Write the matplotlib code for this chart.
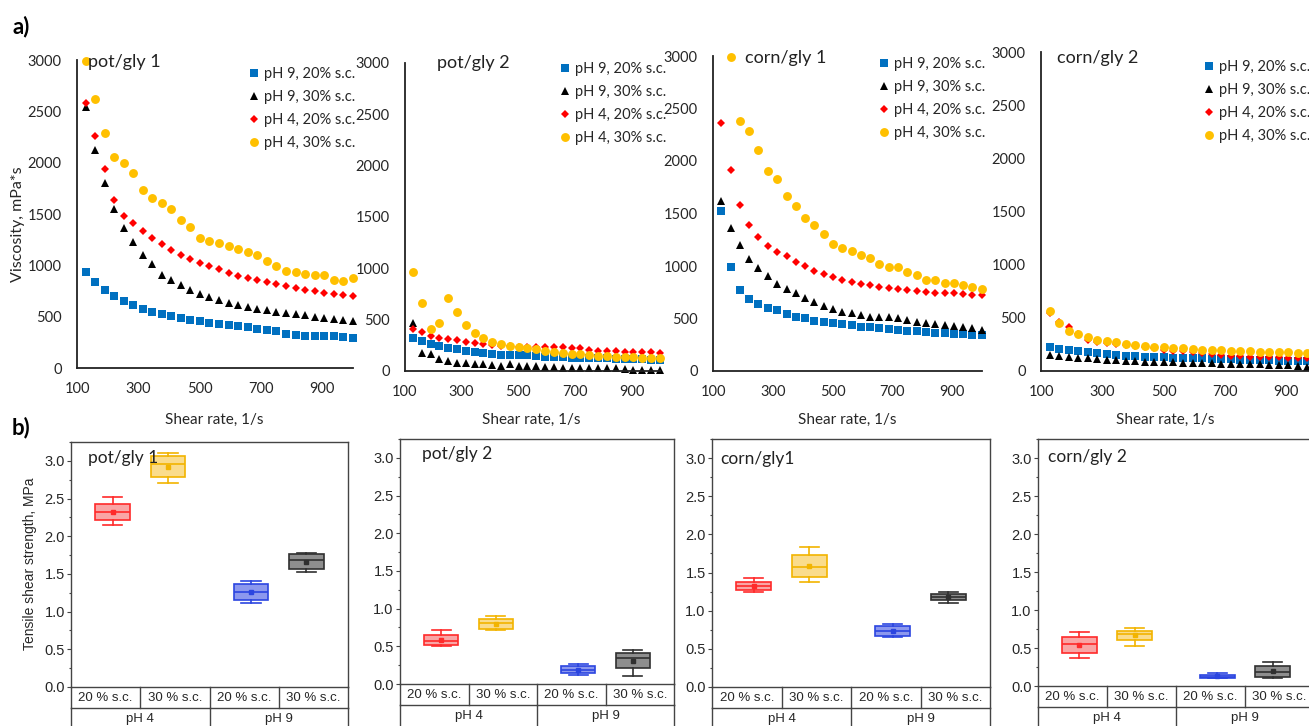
import numpy as np
import matplotlib
matplotlib.use('Agg')
import matplotlib.pyplot as plt
from matplotlib.ticker import MultipleLocator, FormatStrFormatter

plt.rcParams['font.family'] = ['Lato', 'DejaVu Sans']

W, H = 1309, 726

# ---- a) viscosity vs shear rate ----
shear = [128, 159, 190, 221, 252, 283, 315, 346, 377, 408, 439, 470, 501, 532, 564,
         595, 626, 657, 688, 719, 750, 781, 813, 844, 875, 906, 937, 968, 1000]
series_labels = ['pH 9, 20% s.c.', 'pH 9, 30% s.c.', 'pH 4, 20% s.c.', 'pH 4, 30% s.c.']

pg1_ph9_20 = [934, 840, 756, 704, 652, 613, 577, 548, 529, 509, 486, 464, 454, 441, 431,
              422, 409, 396, 383, 373, 357, 331, 324, 315, 311, 311, 308, 302, 292]
pg1_ph9_30 = [2539, 2127, 1803, 1544, 1359, 1223, 1103, 1012, 902, 859, 804, 759, 723, 688, 658,
              636, 613, 590, 577, 561, 548, 535, 525, 516, 499, 486, 477, 467, 460]
pg1_ph4_20 = [2578, 2260, 1936, 1638, 1485, 1411, 1339, 1268, 1206, 1154, 1102, 1064, 1025, 989, 963,
              924, 898, 876, 853, 833, 820, 801, 775, 759, 749, 730, 720, 713, 704]
pg1_ph4_30 = [2990, 2620, 2293, 2053, 1995, 1904, 1732, 1657, 1612, 1553, 1446, 1372, 1262, 1236, 1213,
              1193, 1161, 1128, 1102, 1041, 989, 941, 934, 915, 908, 902, 860, 843, 876]

pg2_ph9_20 = [325, 292, 266, 247, 228, 211, 198, 189, 172, 166, 159, 156, 153, 152, 146,
              140, 137, 133, 130, 130, 127, 124, 124, 120, 117, 114, 114, 111, 107]
pg2_ph9_30 = [465, 172, 166, 114, 98, 81, 81, 65, 65, 55, 52, 68, 49, 49, 46,
              36, 36, 33, 33, 33, 29, 29, 29, 26, 20, 13, 13, 13, 10]
pg2_ph4_20 = [410, 377, 345, 325, 312, 299, 286, 270, 260, 254, 247, 244, 237, 237, 237,
              234, 234, 234, 228, 221, 205, 195, 195, 192, 189, 185, 182, 182, 172]
pg2_ph4_30 = [962, 660, 406, 471, 715, 572, 449, 374, 318, 286, 263, 244, 231, 225, 218,
              195, 182, 172, 168, 162, 156, 150, 145, 140, 135, 132, 128, 125, 122]

cg1_ph9_20 = [1521, 994, 772, 683, 635, 603, 578, 543, 518, 502, 476, 467, 454, 445, 438,
              422, 416, 413, 397, 391, 381, 378, 371, 362, 359, 356, 352, 346, 340]
cg1_ph9_30 = [1619, 1365, 1200, 1070, 984, 908, 832, 778, 740, 695, 654, 622, 594, 565, 549,
              533, 518, 514, 514, 505, 486, 470, 457, 448, 438, 432, 416, 406, 391]
cg1_ph4_20 = [2365, 1915, 1584, 1387, 1280, 1187, 1133, 1095, 1041, 997, 956, 921, 895, 870, 845,
              829, 816, 803, 787, 778, 772, 765, 752, 746, 743, 740, 733, 727, 721]
cg1_ph4_30 = [np.nan, 2990, 2384, 2286, 2105, 1905, 1832, 1670, 1575, 1460, 1387, 1302, 1207, 1168, 1146,
              1105, 1073, 1019, 987, 987, 940, 911, 870, 870, 841, 841, 819, 803, 781]

cg2_ph9_20 = [230, 210, 195, 185, 175, 165, 158, 150, 145, 140, 135, 130, 128, 125, 122,
              120, 118, 115, 112, 110, 108, 105, 102, 100, 98, 95, 92, 90, 88]
cg2_ph9_30 = [150, 140, 130, 125, 118, 110, 105, 100, 96, 92, 88, 85, 82, 80, 78,
              76, 74, 72, 70, 68, 66, 64, 62, 60, 58, 55, 50, 35, 20]
cg2_ph4_20 = [545, 465, 410, 345, 295, 275, 265, 255, 245, 235, 225, 212, 200, 192, 185,
              175, 165, 158, 150, 145, 140, 135, 132, 130, 128, 125, 122, 120, 118]
cg2_ph4_30 = [567, 448, 380, 350, 320, 295, 285, 270, 255, 245, 235, 228, 222, 215, 212,
              208, 202, 198, 195, 190, 188, 185, 182, 180, 178, 175, 172, 170, 168]

# ---- b) tensile shear strength: [whisker low, Q1, median, Q3, whisker high, mean] ----
box_groups = ['20 % s.c.', '30 % s.c.', '20 % s.c.', '30 % s.c.']
ph_groups = ['pH 4', 'pH 9']
tss_pg1 = [[2.15, 2.22, 2.32, 2.43, 2.52, 2.32],
           [2.70, 2.79, 2.96, 3.07, 3.10, 2.92],
           [1.11, 1.16, 1.26, 1.36, 1.40, 1.26],
           [1.52, 1.57, 1.69, 1.77, 1.78, 1.66]]
tss_pg2 = [[0.50, 0.52, 0.57, 0.65, 0.71, 0.59],
           [0.71, 0.73, 0.81, 0.86, 0.90, 0.80],
           [0.12, 0.15, 0.19, 0.24, 0.26, 0.19],
           [0.10, 0.21, 0.34, 0.41, 0.45, 0.31]]
tss_cg1 = [[1.25, 1.27, 1.32, 1.38, 1.43, 1.33],
           [1.38, 1.44, 1.57, 1.73, 1.83, 1.59],
           [0.65, 0.67, 0.74, 0.80, 0.83, 0.73],
           [1.10, 1.14, 1.18, 1.22, 1.24, 1.18]]
tss_cg2 = [[0.37, 0.44, 0.55, 0.65, 0.71, 0.54],
           [0.53, 0.60, 0.69, 0.73, 0.76, 0.67],
           [0.10, 0.10, 0.12, 0.15, 0.17, 0.13],
           [0.10, 0.12, 0.18, 0.26, 0.31, 0.20]]

fig = plt.figure(figsize=(W / 100, H / 100), dpi=100)


def px_axes(x0, y0, x1, y1):
    # axes placed with pixel coordinates (top-left origin)
    return fig.add_axes([x0 / W, 1 - y1 / H, (x1 - x0) / W, (y1 - y0) / H])


markers = [('s', '#0070C0', 5.5), ('^', 'black', 5.8), ('D', '#FF0000', 4.4), ('o', '#FFC000', 6.4)]
text_col = '#262626'

a_panels = [
    ('pot/gly 1', (77, 60, 353, 368), [pg1_ph9_20, pg1_ph9_30, pg1_ph4_20, pg1_ph4_30], (88, 62), (250, 67), 214),
    ('pot/gly 2', (405, 63, 660, 371), [pg2_ph9_20, pg2_ph9_30, pg2_ph4_20, pg2_ph4_30], (437, 63), (561, 62), 531),
    ('corn/gly 1', (713, 56, 982, 371), [cg1_ph9_20, cg1_ph9_30, cg1_ph4_20, cg1_ph4_30], (745, 58), (880, 57), 847),
    ('corn/gly 2', (1041, 52, 1317, 371), [cg2_ph9_20, cg2_ph9_30, cg2_ph4_20, cg2_ph4_30], (1057, 58), (1205, 60), 1165),
]

for title, box, data, tpos, lpos, xl in a_panels:
    ax = px_axes(*box)
    handles = []
    for (m, c, ms), ys, lab in zip(markers, data, series_labels):
        h, = ax.plot(shear, ys, ls='none', marker=m, color=c, ms=ms, mew=0, clip_on=False, label=lab)
        handles.append(h)
    ax.set_xlim(100, 1000)
    ax.set_ylim(0, 3000)
    ax.set_xticks([100, 300, 500, 700, 900])
    ax.set_yticks(range(0, 3001, 500))
    ax.tick_params(length=0, labelsize=10.5, colors=text_col)
    ax.tick_params(axis='x', pad=10)
    ax.tick_params(axis='y', pad=11)
    for s in ['top', 'right']:
        ax.spines[s].set_visible(False)
    for s in ['left', 'bottom']:
        ax.spines[s].set_color('#222222')
        ax.spines[s].set_linewidth(1.3)
    ax.patch.set_alpha(0)
    fig.text(tpos[0] / W, 1 - tpos[1] / H, title, fontsize=13, va='center', ha='left', color='#222222')
    ax.legend(handles=handles, loc='upper left', bbox_to_anchor=(lpos[0] / W, 1 - lpos[1] / H),
              bbox_transform=fig.transFigure, frameon=False, fontsize=10.5, handlelength=0.6,
              handletextpad=0.35, labelspacing=0.62, borderpad=0, borderaxespad=0, labelcolor=text_col)
    fig.text(xl / W, 1 - 420 / H, 'Shear rate, 1/s', fontsize=11, ha='center', va='center', color=text_col)

fig.text(18 / W, 1 - 224 / H, 'Viscosity, mPa*s', fontsize=11.5, rotation=90, ha='center', va='center',
         color=text_col)
fig.text(12 / W, 1 - 27 / H, 'a)', fontsize=16, fontweight='bold', va='center')
fig.text(12 / W, 1 - 428 / H, 'b)', fontsize=16, fontweight='bold', va='center')

# ---- b) box plots (Origin style) ----
box_pos = [0.6, 1.4, 2.6, 3.4]
edge_cols = ['#FF2A2A', '#F2B400', '#2B45E0', '#303030']
fill_cols = ['#F9A5A5', '#FADC8C', '#8C98EE', '#8E8E8E']
frame_col = '#444444'
arial = ['Liberation Sans', 'DejaVu Sans']

b_panels = [
    ('pot/gly 1', (71, 442, 348, 687), tss_pg1, (88, 458)),
    ('pot/gly 2', (400, 439, 674, 684), tss_pg2, (422, 454)),
    ('corn/gly1', (712, 439, 990, 687), tss_cg1, (720, 459)),
    ('corn/gly 2', (1038, 439, 1314, 686), tss_cg2, (1048, 457)),
]

for title, (x0, y0, x1, y1), rows, tpos in b_panels:
    ax = px_axes(x0, y0, x1, y1)
    for k, r in enumerate(rows):
        st = dict(whislo=r[0], q1=r[1], med=r[2], q3=r[3], whishi=r[4], mean=r[5], fliers=[])
        c = edge_cols[k]
        ax.bxp([st], positions=[box_pos[k]], widths=0.5, capwidths=0.28, patch_artist=True,
               showmeans=True, manage_ticks=False,
               boxprops=dict(facecolor=fill_cols[k], edgecolor=c, linewidth=1.2),
               medianprops=dict(color=c, linewidth=1.2),
               whiskerprops=dict(color=c, linewidth=1.2),
               capprops=dict(color=c, linewidth=1.2),
               meanprops=dict(marker='s', markersize=3, markerfacecolor=c, markeredgecolor=c))
    ax.set_xlim(0, 4)
    ax.set_ylim(0, 3.25)
    ax.set_xticks([])
    ax.set_yticks(np.arange(0, 3.01, 0.5))
    ax.yaxis.set_minor_locator(MultipleLocator(0.25))
    ax.yaxis.set_major_formatter(FormatStrFormatter('%.1f'))
    ax.tick_params(axis='y', which='major', length=3, width=0.8, color=frame_col, pad=1.5,
                   labelsize=10.5, labelcolor=text_col)
    ax.tick_params(axis='y', which='minor', length=1.5, width=0.8, color=frame_col)
    for lab in ax.get_yticklabels():
        lab.set_family(arial)
    for s in ax.spines.values():
        s.set_color(frame_col)
        s.set_linewidth(1.0)
    fig.text(tpos[0] / W, 1 - tpos[1] / H, title, fontsize=12.5, va='center', color='#222222', zorder=0)

    # category table under the box plot
    tb = px_axes(x0, y1, x1, y1 + 42)
    tb.set_xlim(0, 4)
    tb.set_ylim(2, 0)
    tb.axis('off')
    tb.plot([0, 4], [1, 1], color=frame_col, lw=1.0, clip_on=False)
    for xv in [0, 1, 2, 3, 4]:
        tb.plot([xv, xv], [0, 1], color=frame_col, lw=1.0, clip_on=False)
    for xv in [0, 2, 4]:
        tb.plot([xv, xv], [1, 2], color=frame_col, lw=1.0, clip_on=False)
    for k, g in enumerate(box_groups):
        tb.text(k + 0.5, 0.5, g, ha='center', va='center', fontsize=9.5, family=arial, color=text_col)
    for k, g in enumerate(ph_groups):
        tb.text(2 * k + 1, 1.5, g, ha='center', va='center', fontsize=9.5, family=arial, color=text_col)

fig.text(30 / W, 1 - 564 / H, 'Tensile shear strength, MPa', rotation=90, ha='center', va='center',
         fontsize=10, family=arial, color=text_col)

fig.savefig('out.png', dpi=100)
